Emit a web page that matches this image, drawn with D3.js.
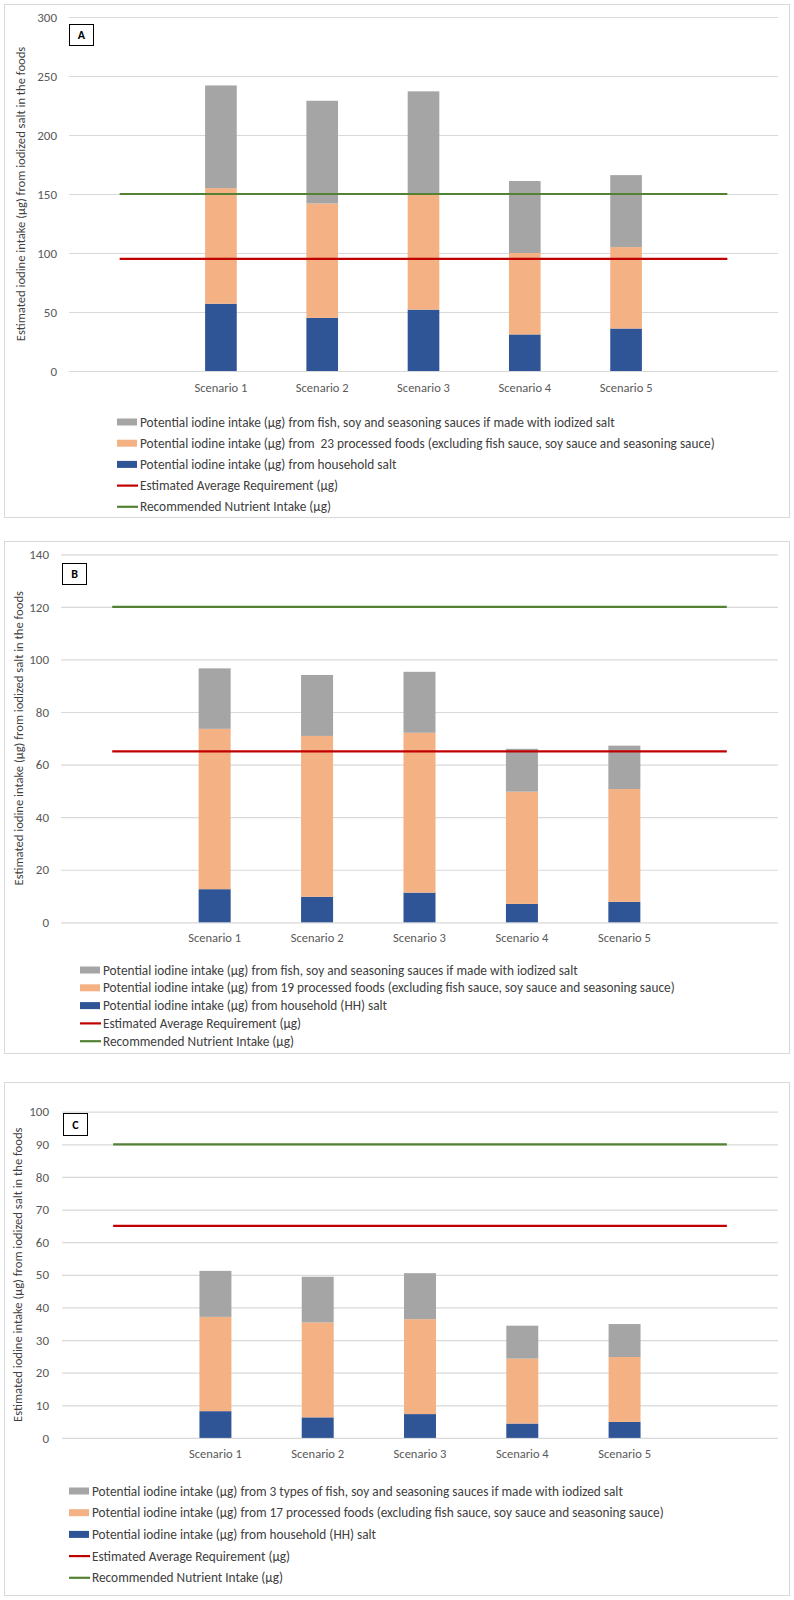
<!DOCTYPE html>
<html>
<head>
<meta charset="utf-8">
<script src="https://cdn.jsdelivr.net/npm/d3@7"></script>
<style>
  body { margin: 0; background: #fff; }
  text { font-family: Carlito, Calibri, "Liberation Sans Narrow", "Open Sans", sans-serif; }
</style>
</head>
<body>
<div id="chart"></div>
<script>
// scenarios on the x axis
const scenarios = ['Scenario 1', 'Scenario 2', 'Scenario 3', 'Scenario 4', 'Scenario 5']

// panel A
const householdA = [57, 45, 52, 31, 36]
const processedA = [98, 97, 98, 69, 69]
const saucesA = [87, 87, 87, 61, 61]
const earA = 95
const rniA = 150
const ticksA = [0, 50, 100, 150, 200, 250, 300]
const legendA = [
	'Potential iodine intake (\u00b5g) from fish, soy and seasoning sauces if made with iodized salt',
	'Potential iodine intake (\u00b5g) from  23 processed foods (excluding fish sauce, soy sauce and seasoning sauce)',
	'Potential iodine intake (\u00b5g) from household salt',
	'Estimated Average Requirement (\u00b5g)',
	'Recommended Nutrient Intake (\u00b5g)'
]

// panel B
const householdB = [12.6, 9.7, 11.3, 7.0, 7.8]
const processedB = [61.0, 61.2, 60.8, 42.7, 42.9]
const saucesB = [23.0, 23.2, 23.2, 16.3, 16.5]
const earB = 65
const rniB = 120
const ticksB = [0, 20, 40, 60, 80, 100, 120, 140]
const legendB = [
	'Potential iodine intake (\u00b5g) from fish, soy and seasoning sauces if made with iodized salt',
	'Potential iodine intake (\u00b5g) from 19 processed foods (excluding fish sauce, soy sauce and seasoning sauce)',
	'Potential iodine intake (\u00b5g) from household (HH) salt',
	'Estimated Average Requirement (\u00b5g)',
	'Recommended Nutrient Intake (\u00b5g)'
]

// panel C
const householdC = [8.2, 6.3, 7.3, 4.4, 4.9]
const processedC = [28.9, 29.1, 29.1, 19.9, 19.9]
const saucesC = [14.1, 14.0, 14.1, 10.1, 10.1]
const earC = 65
const rniC = 90
const ticksC = [0, 10, 20, 30, 40, 50, 60, 70, 80, 90, 100]
const legendC = [
	'Potential iodine intake (\u00b5g) from 3 types of fish, soy and seasoning sauces if made with iodized salt',
	'Potential iodine intake (\u00b5g) from 17 processed foods (excluding fish sauce, soy sauce and seasoning sauce)',
	'Potential iodine intake (\u00b5g) from household (HH) salt',
	'Estimated Average Requirement (\u00b5g)',
	'Recommended Nutrient Intake (\u00b5g)'
]

const yTitle = 'Estimated iodine intake (\u00b5g) from iodized salt in the foods'

const colors = {household: '#2F5597', processed: '#F4B183', sauces: '#A5A5A5', ear: '#C00000', rni: '#548235'}

const svg = d3.select('#chart')
	.append('svg')
	.attr('width', 794)
	.attr('height', 1600)

svg.append('rect').attr('width', 794).attr('height', 1600).attr('fill', '#fff')

function drawPanel(p){

	// outer frame
	svg.append('rect')
		.attr('x', p.box[0] + 0.5).attr('y', p.box[1] + 0.5)
		.attr('width', p.box[2] - p.box[0]).attr('height', p.box[3] - p.box[1])
		.attr('fill', 'none').attr('stroke', '#D9D9D9')

	let x = d3.scaleBand()
		.domain(scenarios)
		.range([p.left, p.right])
		.paddingInner(0.6875)
		.paddingOuter(1.34375)

	let y = d3.scaleLinear()
		.domain([0, p.ticks[p.ticks.length - 1]])
		.range([p.bottom, p.top])

	// gridlines
	let yAxis = g => g
		.attr('transform', `translate(${p.left},0)`)
		.call(d3.axisLeft(y).tickValues(p.ticks).tickSize(-(p.right - p.left)).tickPadding(p.left - p.labelRight))
		.call(g => g.select('.domain').remove())
		.call(g => g.selectAll('.tick line').attr('stroke', '#D9D9D9').attr('stroke-width', 1.2))
		.call(g => g.selectAll('.tick text').attr('fill', '#595959').style('font-size', '13px'))

	svg.append('g').call(yAxis)

	// stacked bars
	let rows = scenarios.map((s, i) => ({key: s, household: p.household[i], processed: p.processed[i], sauces: p.sauces[i]}))
	let stack = d3.stack().keys(['household', 'processed', 'sauces'])(rows)

	svg.append('g')
		.selectAll('g')
		.data(stack)
		.enter()
		.append('g')
		.attr('fill', d => colors[d.key])
		.selectAll('rect')
		.data(d => d)
		.enter()
		.append('rect')
		.attr('x', d => x(d.data.key))
		.attr('y', d => y(d[1]))
		.attr('height', d => y(d[0]) - y(d[1]))
		.attr('width', x.bandwidth())

	// reference lines span one step beyond the first and last bar
	let x1 = x(scenarios[0]) + x.bandwidth() / 2 - x.step()
	let x2 = x(scenarios[scenarios.length - 1]) + x.bandwidth() / 2 + x.step()

	;[['ear', p.ear], ['rni', p.rni]].forEach(function(l){
		svg.append('line')
			.attr('x1', x1).attr('x2', x2)
			.attr('y1', y(l[1])).attr('y2', y(l[1]))
			.attr('stroke', colors[l[0]])
			.attr('stroke-width', 2.2)
	})

	// x labels
	let xAxis = g => g
		.attr('transform', `translate(0,${p.bottom})`)
		.call(d3.axisBottom(x).tickSize(0).tickPadding(p.xLabelOffset))
		.call(g => g.select('.domain').remove())
		.call(g => g.selectAll('.tick text').attr('fill', '#595959').style('font-size', '12.5px'))

	svg.append('g').call(xAxis)

	// y title
	svg.append('text')
		.attr('transform', `translate(${p.titleX},${(p.top + p.bottom) / 2}) rotate(-90)`)
		.attr('text-anchor', 'middle')
		.attr('dy', '0.35em')
		.attr('fill', '#404040')
		.style('font-size', '12.6px')
		.text(yTitle)

	// panel letter
	svg.append('rect')
		.attr('x', p.tag[0] + 0.5).attr('y', p.tag[1] + 0.5)
		.attr('width', 24).attr('height', p.tag[2])
		.attr('fill', '#fff').attr('stroke', '#000').attr('stroke-width', 1)
	svg.append('text')
		.attr('x', p.tag[0] + 12.5).attr('y', p.tag[1] + p.tag[2] / 2 + 0.5)
		.attr('text-anchor', 'middle').attr('dy', '0.35em')
		.style('font-size', '12px').style('font-weight', 'bold')
		.text(p.letter)

	// legend
	let keys = ['sauces', 'processed', 'household', 'ear', 'rni']
	let legend = svg.append('g')
		.selectAll('g')
		.data(p.legend)
		.enter()
		.append('g')
		.attr('transform', (d, i) => `translate(${p.legendX},${p.legendY + i * p.legendGap})`)

	legend.each(function(d, i){
		let g = d3.select(this)
		if (i < 3){
			g.append('rect').attr('x', 0).attr('y', -3.5).attr('width', 20).attr('height', 7).attr('fill', colors[keys[i]])
		} else {
			g.append('line').attr('x1', 0).attr('x2', 21).attr('y1', 0).attr('y2', 0).attr('stroke', colors[keys[i]]).attr('stroke-width', 2.2)
		}
		g.append('text')
			.attr('x', 23)
			.attr('dy', '0.35em')
			.attr('fill', '#404040')
			.style('font-size', '13.3px')
			.style('white-space', 'pre')
			.text(d)
	})
}

drawPanel({
	letter: 'A', box: [4, 4, 789, 517], left: 69, right: 778, top: 17, bottom: 371, labelRight: 57,
	ticks: ticksA, household: householdA, processed: processedA, sauces: saucesA, ear: earA, rni: rniA,
	xLabelOffset: 12, titleX: 21, tag: [69, 24, 21],
	legend: legendA, legendX: 117, legendY: 422, legendGap: 21.2
})

drawPanel({
	letter: 'B', box: [4, 541, 789, 1053], left: 61, right: 778, top: 554.3, bottom: 922.3, labelRight: 49,
	ticks: ticksB, household: householdB, processed: processedB, sauces: saucesB, ear: earB, rni: rniB,
	xLabelOffset: 11, titleX: 19, tag: [62, 563, 21],
	legend: legendB, legendX: 80, legendY: 970, legendGap: 17.8
})

drawPanel({
	letter: 'C', box: [4, 1082, 789, 1595], left: 62, right: 778, top: 1111.7, bottom: 1437.9, labelRight: 49,
	ticks: ticksC, household: householdC, processed: processedC, sauces: saucesC, ear: earC, rni: rniC,
	xLabelOffset: 11, titleX: 18, tag: [63, 1113, 22],
	legend: legendC, legendX: 69, legendY: 1491, legendGap: 21.7
})
</script>
</body>
</html>
